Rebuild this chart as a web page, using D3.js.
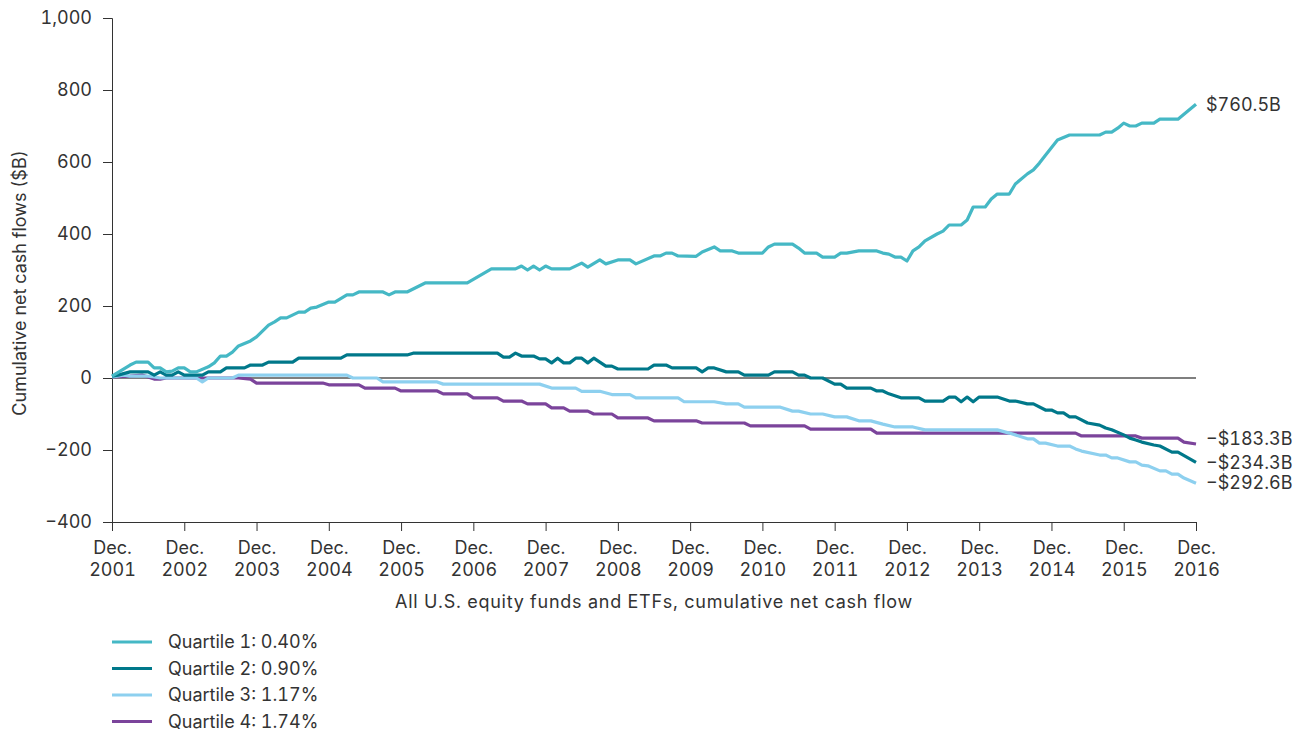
<!DOCTYPE html>
<html>
<head>
<meta charset="utf-8">
<style>
  body { margin: 0; background: #fff; }
  svg text { font-family: Inter, "Liberation Sans", Arial, sans-serif; fill: #333; font-variant-numeric: tabular-nums; }
</style>
</head>
<body>
<svg width="1299" height="732"></svg>
<script src="https://d3js.org/d3.v7.min.js"></script>
<script>
// month index: 0 = Dec. 2001, 180 = Dec. 2016 ; values in $B
var q1 = [[0,5],[3,36],[4,44],[6,44],[7,28],[8,28],[9,17],[10,19],[11,28],[12,28],[13,17],[14,17],[16,31],[17,42],[18,61],[19,61],[20,72],[21,89],[23,103],[24,114],[26,147],[27,156],[28,167],[29,167],[31,183],[32,183],[33,194],[34,197],[36,211],[37,211],[39,231],[40,231],[41,239],[45,239],[46,231],[47,239],[49,239],[52,264],[59,264],[63,303],[67,303],[68,311],[69,300],[70,311],[71,300],[72,311],[73,303],[76,303],[78,319],[79,308],[81,328],[82,317],[84,328],[86,328],[87,317],[90,339],[91,339],[92,347],[93,347],[94,339],[97,338],[98,350],[100,364],[101,353],[103,353],[104,347],[108,347],[109,364],[110,372],[113,372],[114,361],[115,347],[117,347],[118,336],[120,336],[121,347],[122,347],[124,353],[127,353],[128,347],[129,344],[130,336],[131,336],[132,325],[133,353],[134,364],[135,381],[137,400],[138,408],[139,425],[141,425],[142,439],[143,475],[145,475],[146,497],[147,511],[149,511],[150,539],[152,567],[153,578],[154,597],[155,619],[157,661],[159,675],[164,675],[165,683],[166,683],[167,694],[168,708],[169,700],[170,700],[171,708],[173,708],[174,719],[177,719],[180,760.5]];
var q2 = [[0,5],[1,8],[3,17],[6,17],[7,8],[8,17],[9,8],[10,8],[11,17],[12,8],[15,8],[16,17],[18,17],[19,28],[22,28],[23,36],[25,36],[26,44],[30,44],[31,55],[38,55],[39,64],[49,64],[50,69],[64,69],[65,58],[66,58],[67,69],[68,61],[70,61],[71,53],[72,53],[73,42],[74,55],[75,42],[76,42],[77,55],[78,55],[79,42],[80,55],[81,44],[82,33],[83,33],[84,25],[89,25],[90,36],[92,36],[93,28],[97,28],[98,17],[99,28],[100,28],[102,17],[104,17],[105,8],[109,8],[110,17],[113,17],[114,8],[115,8],[116,0],[118,0],[120,-17],[121,-17],[122,-28],[126,-28],[127,-36],[128,-36],[129,-44],[131,-55],[134,-55],[135,-64],[138,-64],[139,-53],[140,-53],[141,-66],[142,-53],[143,-66],[144,-53],[147,-53],[149,-64],[150,-64],[152,-72],[153,-72],[155,-89],[156,-89],[157,-97],[158,-97],[159,-108],[160,-108],[162,-125],[164,-131],[165,-139],[166,-144],[168,-158],[169,-167],[170,-172],[171,-178],[173,-186],[174,-189],[176,-206],[177,-206],[180,-234.3]];
var q3 = [[0,3],[2,8],[3,5],[6,5],[7,3],[8,0],[14,0],[15,-11],[16,0],[20,0],[21,8],[39,8],[40,0],[44,0],[45,-11],[54,-11],[55,-17],[71,-17],[73,-28],[77,-28],[78,-37],[81,-37],[83,-46],[86,-46],[87,-55],[94,-55],[95,-66],[100,-66],[102,-72],[104,-72],[105,-81],[111,-81],[113,-92],[114,-92],[116,-100],[118,-100],[120,-108],[122,-108],[124,-119],[126,-119],[128,-128],[130,-136],[133,-136],[135,-144],[147,-144],[149,-153],[150,-158],[152,-169],[153,-169],[154,-181],[155,-181],[157,-189],[159,-189],[160,-197],[161,-203],[164,-214],[165,-214],[166,-222],[167,-222],[169,-233],[170,-233],[171,-242],[172,-244],[174,-258],[175,-258],[176,-267],[177,-267],[178,-278],[180,-292.6]];
var q4 = [[0,3],[3,5],[5,8],[6,3],[7,-3],[8,-3],[9,0],[21,0],[23,-3],[24,-14],[35,-14],[36,-19],[41,-19],[42,-28],[47,-28],[48,-36],[54,-36],[55,-44],[59,-44],[60,-55],[64,-55],[65,-64],[68,-64],[69,-72],[72,-72],[73,-83],[75,-83],[76,-92],[79,-92],[80,-100],[83,-100],[84,-111],[89,-111],[90,-119],[97,-119],[98,-125],[105,-125],[106,-133],[115,-133],[116,-142],[126,-142],[127,-153],[160,-153],[161,-161],[170,-161],[171,-167],[177,-167],[178,-178],[180,-183.3]];

var names = ["Quartile 1: 0.40%", "Quartile 2: 0.90%", "Quartile 3: 1.17%", "Quartile 4: 1.74%"];
var colors = ["#45b8c5", "#00788a", "#8dd0ef", "#7b449b"];
var endLabels = ["$760.5B", "\u2212$234.3B", "\u2212$292.6B", "\u2212$183.3B"];
var endValues = [760.5, -234.3, -292.6, -183.3];
var yTicks = [-400, -200, 0, 200, 400, 600, 800, 1000];
var xTicks = d3.range(0, 181, 12);
var series = [q1, q2, q3, q4];

var svg = d3.select("svg");
var x = d3.scaleLinear().domain([0, 180]).range([112, 1196]);
var y = d3.scaleLinear().domain([-400, 1000]).range([522, 18]);
var fmt = d3.format(",");

// y axis
var ya = svg.append("g").attr("transform", "translate(112,0)")
  .call(d3.axisLeft(y).tickValues(yTicks).tickSize(9).tickPadding(11)
    .tickFormat(function(d) { return d < 0 ? "\u2212" + fmt(-d) : fmt(d); }));
ya.select(".domain").attr("stroke", "#333");
ya.selectAll(".tick line").attr("stroke", "#333");
ya.selectAll("text").attr("font-size", 18).attr("fill", "#333").style("font-family", "Inter, sans-serif");

// x axis
var xa = svg.append("g").attr("transform", "translate(0,522)")
  .call(d3.axisBottom(x).tickValues(xTicks).tickSize(9).tickFormat(""));
xa.select(".domain").attr("stroke", "#333");
xa.selectAll(".tick line").attr("stroke", "#333");
xa.selectAll(".tick").append("text")
  .attr("text-anchor", "middle").attr("font-size", 18).attr("fill", "#333")
  .each(function(d) {
    var t = d3.select(this);
    t.append("tspan").attr("x", 0).attr("y", 32).text("Dec.");
    t.append("tspan").attr("x", 0).attr("y", 54).text(2001 + d / 12);
  });

// zero line
svg.append("line")
  .attr("x1", x(0)).attr("x2", x(180))
  .attr("y1", y(0)).attr("y2", y(0))
  .attr("stroke", "#000").attr("stroke-width", 1.2);

// axis titles
svg.append("text")
  .attr("transform", "translate(26," + y(264) + ") rotate(-90)")
  .attr("text-anchor", "middle").attr("font-size", 18)
  .text("Cumulative net cash flows ($B)");
svg.append("text")
  .attr("x", 654).attr("y", 608)
  .attr("text-anchor", "middle").attr("font-size", 18)
  .attr("letter-spacing", 0.75)
  .text("All U.S. equity funds and ETFs, cumulative net cash flow");

// lines, drawn Q4 first so Q1 sits on top
var line = d3.line().x(function(d) { return x(d[0]); }).y(function(d) { return y(d[1]); });
[3, 2, 1, 0].forEach(function(i) {
  svg.append("path")
    .datum(series[i])
    .attr("fill", "none")
    .attr("stroke", colors[i])
    .attr("stroke-width", 3.2)
    .attr("stroke-linejoin", "round")
    .attr("d", line);
});

// end labels, nudged apart where they crowd
var nudge = [0, 0, -1, -5];
endLabels.forEach(function(t, i) {
  svg.append("text")
    .attr("x", 1206).attr("y", y(endValues[i]) + nudge[i])
    .attr("dy", "0.35em").attr("font-size", 18)
    .text(t);
});

// legend
var lg = svg.append("g");
names.forEach(function(n, i) {
  var ly = 642 + i * 26.5;
  lg.append("line").attr("x1", 112).attr("x2", 152).attr("y1", ly).attr("y2", ly)
    .attr("stroke", colors[i]).attr("stroke-width", 3);
  lg.append("text").attr("x", 168).attr("y", ly).attr("dy", "0.35em")
    .attr("font-size", 18).text(n);
});
</script>
</body>
</html>
